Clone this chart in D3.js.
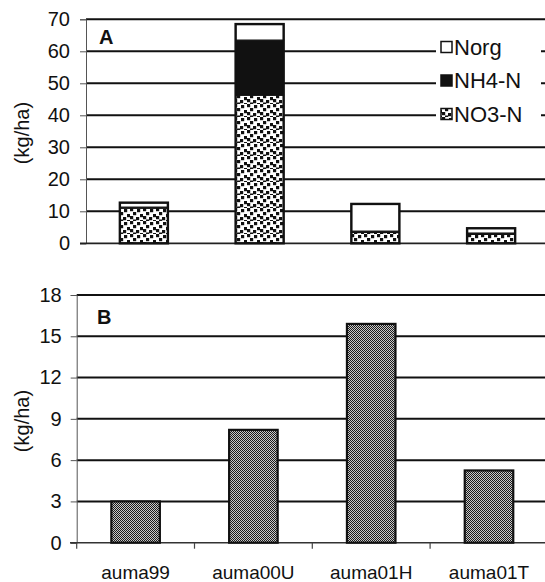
<!DOCTYPE html>
<html>
<head>
<meta charset="utf-8">
<script src="https://cdn.jsdelivr.net/npm/d3@7"></script>
<style>
  html, body { margin: 0; padding: 0; background: #fff; }
  svg { display: block; font-family: "Liberation Sans", Arial, sans-serif; }
</style>
</head>
<body>
<svg id="chart" width="545" height="582"></svg>
<script>
// ---- data ----
const categories = ["auma99", "auma00U", "auma01H", "auma01T"];
const no3N  = [11.0, 46.3, 3.4, 2.8];
const nh4N  = [0.3, 17.2, 0.4, 0.4];
const norg  = [1.4, 5.0, 8.5, 1.5];
const seriesNames = ["NO3-N", "NH4-N", "Norg"];
const legendOrder = ["Norg", "NH4-N", "NO3-N"];
const panelBValues = [3.0, 8.2, 15.9, 5.25];
const ticksA = [0, 10, 20, 30, 40, 50, 60, 70];
const ticksB = [0, 3, 6, 9, 12, 15, 18];

const svg = d3.select("#chart");
const defs = svg.append("defs");

// NO3 pattern: white with scattered black squares
const pNO3 = defs.append("pattern").attr("id", "pNO3")
  .attr("patternUnits", "userSpaceOnUse").attr("width", 13).attr("height", 13);
pNO3.append("rect").attr("width", 13).attr("height", 13).attr("fill", "#fff");
[[0,0],[7,1],[3,4],[10,6],[0,8],[6,9],[3,11.5],[10,12]].forEach(([x,y]) =>
  pNO3.append("rect").attr("x", x).attr("y", y).attr("width", 3.2).attr("height", 3.2).attr("fill", "#111"));

// Panel B pattern: fine checker
const pB = defs.append("pattern").attr("id", "pB")
  .attr("patternUnits", "userSpaceOnUse").attr("width", 2).attr("height", 2);
pB.append("rect").attr("width", 2).attr("height", 2).attr("fill", "#c8c8c8");
pB.append("rect").attr("x", 0).attr("y", 0).attr("width", 1).attr("height", 1).attr("fill", "#1a1a1a");
pB.append("rect").attr("x", 1).attr("y", 1).attr("width", 1).attr("height", 1).attr("fill", "#1a1a1a");

const fills = {"NO3-N": "url(#pNO3)", "NH4-N": "#111", "Norg": "#fff"};

// ---------------- Panel A ----------------
const xA = d3.scaleBand().domain(categories).range([86, 549]).paddingInner(0.585).paddingOuter(0.2925);
const yA = d3.scaleLinear().domain([0, 70]).range([243.3, 19.3]);
const gA = svg.append("g");

gA.append("g").selectAll("line").data(ticksA.filter(d => d > 0)).join("line")
  .attr("x1", 86).attr("x2", 560).attr("y1", d => yA(d)).attr("y2", d => yA(d))
  .attr("stroke", "#111").attr("stroke-width", 2);

// legend background
gA.append("rect").attr("x", 436).attr("y", 33).attr("width", 105).attr("height", 96).attr("fill", "#fff");

const axA = d3.axisLeft(yA).tickValues(ticksA).tickSize(6).tickPadding(10);
const axAG = gA.append("g").attr("transform", "translate(86,0)").call(axA);
axAG.select(".domain").attr("stroke", "#555").attr("stroke-width", 1);
axAG.selectAll(".tick line").attr("stroke", "#555");
axAG.selectAll("text").attr("font-size", 20).attr("fill", "#111").attr("font-family", "Liberation Sans, Arial, sans-serif");

gA.append("line").attr("x1", 80).attr("x2", 560).attr("y1", yA(0)).attr("y2", yA(0))
  .attr("stroke", "#222").attr("stroke-width", 1.8);

const rows = categories.map((c, i) => ({cat: c, "NO3-N": no3N[i], "NH4-N": nh4N[i], "Norg": norg[i]}));
const stack = d3.stack().keys(seriesNames)(rows);
stack.forEach(layer => {
  gA.append("g").selectAll("rect").data(layer).join("rect")
    .attr("x", d => xA(d.data.cat))
    .attr("width", xA.bandwidth())
    .attr("y", d => yA(d[1]))
    .attr("height", d => yA(d[0]) - yA(d[1]))
    .attr("fill", fills[layer.key])
    .attr("stroke", "#111").attr("stroke-width", 1.2);
});
gA.append("g").selectAll("rect").data(rows).join("rect")
  .attr("x", d => xA(d.cat)).attr("width", xA.bandwidth())
  .attr("y", d => yA(d["NO3-N"] + d["NH4-N"] + d["Norg"]))
  .attr("height", d => yA(0) - yA(d["NO3-N"] + d["NH4-N"] + d["Norg"]))
  .attr("fill", "none").attr("stroke", "#111").attr("stroke-width", 2.4);

// legend
const legY = d3.scalePoint().domain(legendOrder).range([47, 114]);
const leg = gA.append("g");
legendOrder.forEach(k => {
  leg.append("rect").attr("x", 441).attr("y", legY(k) - 5.5).attr("width", 11).attr("height", 11)
    .attr("fill", fills[k]).attr("stroke", "#111").attr("stroke-width", 1.5);
  leg.append("text").attr("x", 454).attr("y", legY(k)).attr("dy", "0.36em")
    .attr("font-size", 22).attr("fill", "#111").text(k);
});

gA.append("text").attr("x", 99).attr("y", 44).attr("font-size", 20).attr("font-weight", "bold").attr("fill", "#111").text("A");
gA.append("text").attr("transform", "translate(29,133) rotate(-90)").attr("text-anchor", "middle")
  .attr("font-size", 20).attr("fill", "#111").text("(kg/ha)");

// ---------------- Panel B ----------------
const xB = d3.scaleBand().domain(categories).range([76.7, 547.9]).paddingInner(0.588).paddingOuter(0.294);
const yB = d3.scaleLinear().domain([0, 18]).range([542.7, 295]);
const gB = svg.append("g");

gB.append("g").selectAll("line").data(ticksB.filter(d => d > 0)).join("line")
  .attr("x1", 76.7).attr("x2", 560).attr("y1", d => yB(d)).attr("y2", d => yB(d))
  .attr("stroke", "#111").attr("stroke-width", 2);

const axB = d3.axisLeft(yB).tickValues(ticksB).tickSize(6).tickPadding(9);
const axBG = gB.append("g").attr("transform", "translate(76.7,0)").call(axB);
axBG.select(".domain").attr("stroke", "#555").attr("stroke-width", 1);
axBG.selectAll(".tick line").attr("stroke", "#555");
axBG.selectAll("text").attr("font-size", 20).attr("fill", "#111").attr("font-family", "Liberation Sans, Arial, sans-serif");

const stepB = xB.step();
const boundaries = categories.map(c => xB(c) - xB.paddingInner() * stepB / 2);
gB.append("line").attr("x1", 70).attr("x2", 560).attr("y1", yB(0)).attr("y2", yB(0))
  .attr("stroke", "#333").attr("stroke-width", 1.5);
gB.append("g").selectAll("line").data(boundaries).join("line")
  .attr("x1", d => d).attr("x2", d => d).attr("y1", yB(0)).attr("y2", yB(0) + 6)
  .attr("stroke", "#444").attr("stroke-width", 1.2);

gB.append("g").selectAll("rect").data(categories).join("rect")
  .attr("x", d => xB(d)).attr("width", xB.bandwidth())
  .attr("y", (d, i) => yB(panelBValues[i]))
  .attr("height", (d, i) => yB(0) - yB(panelBValues[i]))
  .attr("fill", "url(#pB)").attr("stroke", "#111").attr("stroke-width", 2.2);

gB.append("g").selectAll("text").data(categories).join("text")
  .attr("x", d => xB(d) + xB.bandwidth() / 2).attr("y", 579)
  .attr("text-anchor", "middle").attr("font-size", 19).attr("fill", "#111").text(d => d);

gB.append("text").attr("x", 97).attr("y", 324).attr("font-size", 20).attr("font-weight", "bold").attr("fill", "#111").text("B");
gB.append("text").attr("transform", "translate(29,421) rotate(-90)").attr("text-anchor", "middle")
  .attr("font-size", 20).attr("fill", "#111").text("(kg/ha)");
</script>
</body>
</html>
